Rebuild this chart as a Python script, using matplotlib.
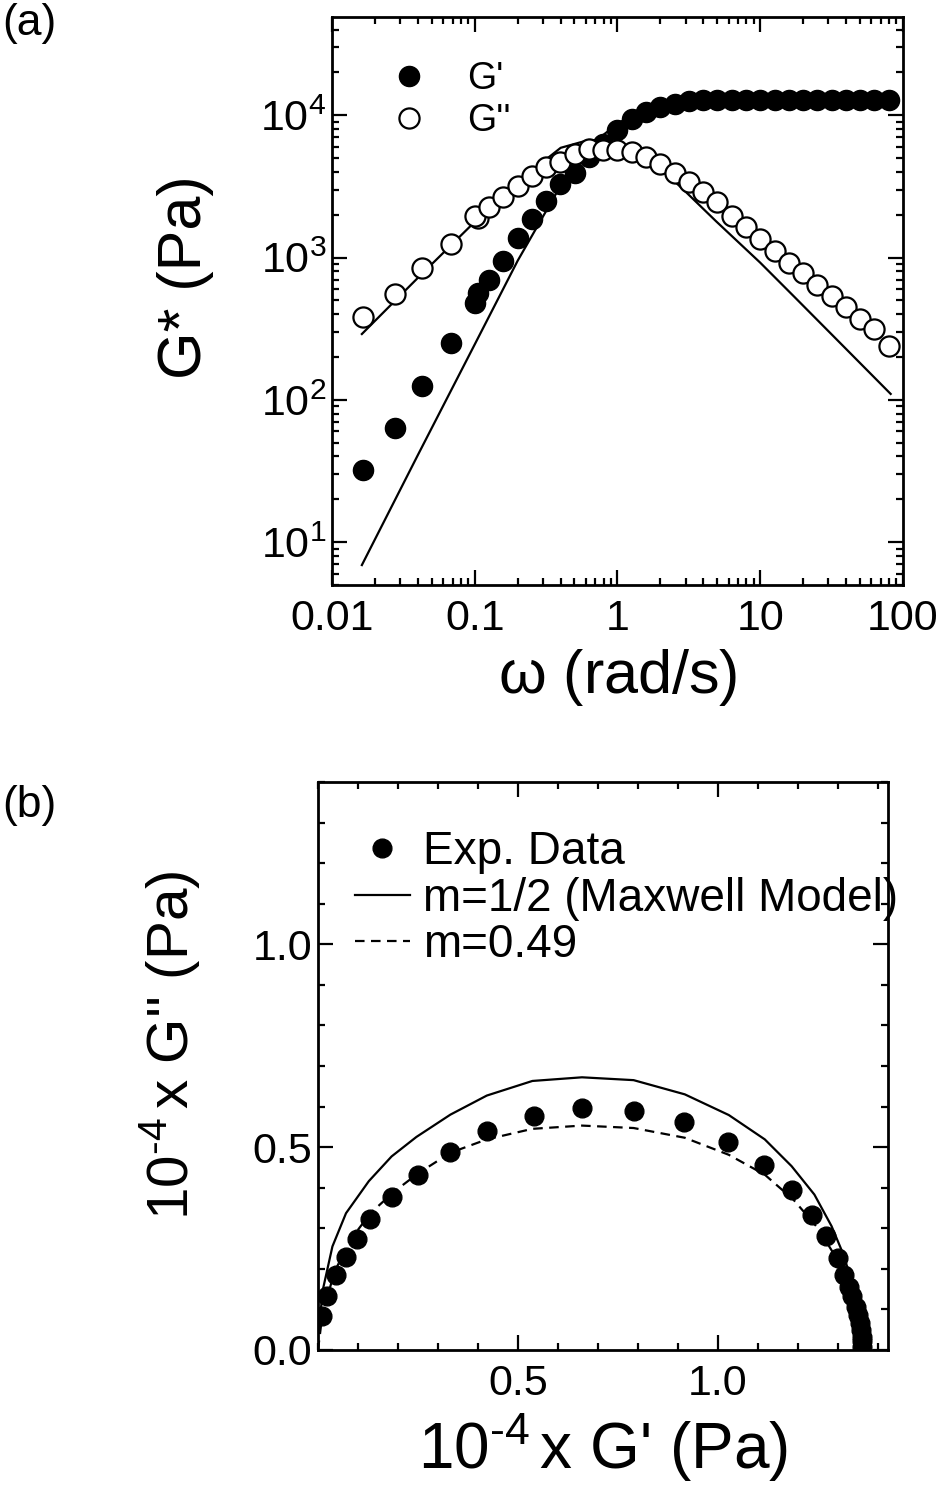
import numpy as np
import matplotlib.pyplot as plt
from matplotlib.ticker import LogLocator, MultipleLocator, FixedLocator, NullFormatter

plt.rcParams['font.family'] = ['Liberation Sans', 'DejaVu Sans']
plt.rcParams['mathtext.fontset'] = 'custom'
plt.rcParams['mathtext.rm'] = 'Liberation Sans'
plt.rcParams['mathtext.it'] = 'Liberation Sans'

# ---- panel (a): frequency sweep ----
w_lo = [0.0165, 0.0275, 0.043, 0.068, 0.105]
gp_lo = [32, 63, 126, 252, 560]
gpp_lo = [380, 555, 850, 1240, 1900]

w_hi = [0.1, 0.126, 0.158, 0.2, 0.251, 0.316, 0.398, 0.501, 0.631, 0.794,
        1.0, 1.26, 1.58, 2.0, 2.51, 3.16, 3.98, 5.01, 6.31, 7.94,
        10, 12.6, 15.8, 20, 25.1, 31.6, 39.8, 50.1, 63.1, 79.4]
gp_hi = [480, 700, 940, 1380, 1850, 2500, 3300, 3900, 5100, 6300,
         7900, 9400, 10500, 11400, 12000, 12500, 12700, 12800, 12800, 12800,
         12800, 12800, 12800, 12800, 12800, 12800, 12800, 12750, 12750, 12750]
gpp_hi = [1950, 2250, 2650, 3200, 3750, 4300, 4700, 5350, 5800, 5700,
          5650, 5500, 5100, 4550, 3900, 3400, 2880, 2450, 1970, 1630,
          1350, 1110, 920, 780, 640, 540, 450, 372, 317, 237]

# Maxwell model curves
w_mod = [0.0162, 0.04, 0.1, 0.2, 0.4, 0.63, 0.8, 1.0, 1.3, 2.0, 3.0, 4.9, 10, 17, 32, 82]
gp_mod = [6.9, 41, 245, 950, 3200, 5800, 7300, 8700, 10200, 11900, 12700, 13100, 13300, 13350, 13400, 13400]
gpp_mod = [290, 720, 1780, 3400, 5900, 6700, 6650, 6300, 5650, 4250, 2900, 1800, 920, 540, 285, 110]

# ---- panel (b): Cole-Cole plot (units of 1e4 Pa) ----
cc_gp = [0.0095, 0.022, 0.044, 0.070, 0.098, 0.131, 0.184, 0.250, 0.330, 0.422,
         0.539, 0.660, 0.791, 0.914, 1.024, 1.115, 1.184, 1.236, 1.271, 1.300,
         1.315, 1.327, 1.336, 1.346, 1.350, 1.355, 1.358, 1.360, 1.360, 1.360]
cc_gpp = [0.084, 0.132, 0.185, 0.229, 0.273, 0.323, 0.377, 0.432, 0.488, 0.539,
          0.576, 0.597, 0.590, 0.561, 0.513, 0.457, 0.393, 0.333, 0.280, 0.226,
          0.185, 0.156, 0.132, 0.107, 0.086, 0.066, 0.049, 0.033, 0.021, 0.008]

max_x = [0.002, 0.012, 0.036, 0.07, 0.127, 0.184, 0.246, 0.331, 0.422, 0.536, 0.66,
         0.789, 0.917, 1.027, 1.117, 1.184, 1.241, 1.284, 1.312, 1.336, 1.35, 1.36]
max_y = [0.05, 0.148, 0.255, 0.337, 0.416, 0.477, 0.525, 0.58, 0.627, 0.663, 0.672,
         0.665, 0.63, 0.579, 0.519, 0.453, 0.383, 0.305, 0.239, 0.165, 0.107, 0.007]

m049_x = [0.0, 0.01, 0.04, 0.08, 0.131, 0.19, 0.25, 0.331, 0.422, 0.536, 0.66,
          0.789, 0.917, 1.027, 1.117, 1.189, 1.25, 1.30, 1.33, 1.35, 1.36]
m049_y = [0.0, 0.08, 0.19, 0.27, 0.337, 0.39, 0.435, 0.486, 0.519, 0.545, 0.553,
          0.547, 0.523, 0.481, 0.432, 0.37, 0.30, 0.22, 0.15, 0.08, 0.01]

fig = plt.figure(figsize=(9.49, 14.9), dpi=100)
ax1 = fig.add_axes([0.3498, 0.6074, 0.6017, 0.3812])
ax2 = fig.add_axes([0.3351, 0.0940, 0.6006, 0.3812])

ms = 14.5
lw = 1.6

ax1.plot(w_mod, gp_mod, '-', color='black', lw=lw)
ax1.plot(w_mod, gpp_mod, '-', color='black', lw=lw)
ax1.plot(w_lo + w_hi, gp_lo + gp_hi, 'o', color='black', ms=ms, label="G'")
ax1.plot(w_lo + w_hi, gpp_lo + gpp_hi, 'o', mfc='white', mec='black', mew=1.6, ms=ms, label="G''")

ax1.set_xscale('log')
ax1.set_yscale('log')
ax1.set_xlim(0.01, 100)
ax1.set_ylim(5, 4.9e4)
ax1.set_xticks([0.01, 0.1, 1, 10, 100])
ax1.set_xticklabels(['0.01', '0.1', '1', '10', '100'])
ax1.yaxis.set_major_locator(FixedLocator([10, 100, 1000, 10000]))
ax1.yaxis.set_minor_locator(LogLocator(base=10, subs=np.arange(2, 10)))
ax1.yaxis.set_minor_formatter(NullFormatter())
ax1.xaxis.set_minor_locator(LogLocator(base=10, subs=np.arange(2, 10)))
ax1.xaxis.set_minor_formatter(NullFormatter())
ax1.set_xlabel(r'$\omega$ (rad/s)', fontsize=44, labelpad=6)
ax1.set_ylabel('G* (Pa)', fontsize=44)
ax1.yaxis.set_label_coords(-0.207, 0.542)
ax1.legend(loc='upper left', bbox_to_anchor=(0.069, 0.955), frameon=False, fontsize=27,
           handlelength=1.0, handletextpad=1.05, labelspacing=0.15, borderpad=0, numpoints=1)

ax2.plot(max_x, max_y, '-', color='black', lw=lw, label='m=1/2 (Maxwell Model)')
ax2.plot(m049_x, m049_y, '--', color='black', lw=lw, dashes=(4.3, 2.9), label='m=0.49')
ax2.plot(cc_gp, cc_gpp, 'o', color='black', ms=13.5, label='Exp. Data')
ax2.set_xlim(0, 1.425)
ax2.set_ylim(0, 1.4)
ax2.xaxis.set_major_locator(FixedLocator([0.5, 1.0]))
ax2.xaxis.set_minor_locator(MultipleLocator(0.1))
ax2.yaxis.set_major_locator(FixedLocator([0.0, 0.5, 1.0]))
ax2.yaxis.set_minor_locator(MultipleLocator(0.1))
ax2.set_xticklabels(['0.5', '1.0'])
ax2.set_yticklabels(['0.0', '0.5', '1.0'])
ax2.set_xlabel(r"$\mathdefault{10^{\text{-4}}}\,$x G' (Pa)", fontsize=46, labelpad=6)
ax2.set_ylabel(r"$\mathdefault{10^{\text{-4}}}\,$x G'' (Pa)", fontsize=42)
ax2.yaxis.set_label_coords(-0.2035, 0.537)
h, l = ax2.get_legend_handles_labels()
ax2.legend([h[2], h[0], h[1]], [l[2], l[0], l[1]], loc='upper left', bbox_to_anchor=(0.024, 0.956),
           frameon=False, fontsize=33, handlelength=1.2, handletextpad=0.3,
           labelspacing=0.06, borderpad=0, numpoints=1)

for ax in (ax1, ax2):
    for s in ax.spines.values():
        s.set_linewidth(2.0)
    ax.tick_params(which='both', direction='in', top=True, right=True, width=1.6)
    ax.tick_params(which='major', length=11, labelsize=31)
    ax.tick_params(which='minor', length=5)
    ax.tick_params(axis='x', which='major', pad=10)
    ax.tick_params(axis='y', which='major', pad=4)

fig.text(0.002, 0.998, '(a)', fontsize=32, ha='left', va='top')
fig.text(0.002, 0.473, '(b)', fontsize=32, ha='left', va='top')

fig.savefig('out.png', dpi=100)
